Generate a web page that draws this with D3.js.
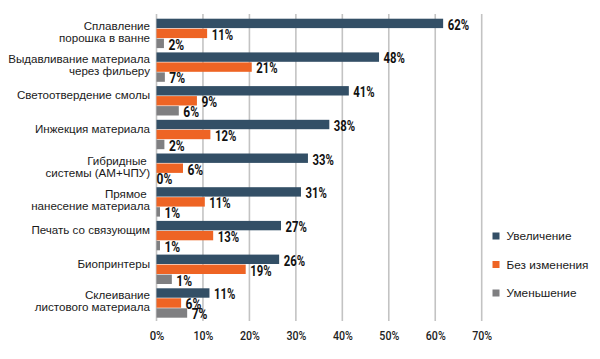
<!DOCTYPE html>
<html><head><meta charset="utf-8">
<script src="https://cdn.jsdelivr.net/npm/d3@7"></script>
<style>
body{margin:0;background:#fff;}
svg{display:block;}
text{white-space:pre;}
</style></head>
<body>
<svg id="chart" width="600" height="359"></svg>
<script>
const categories = [
  ["Сплавление", "порошка в ванне"],
  ["Выдавливание материала", "через фильеру"],
  ["Светоотвердение смолы"],
  ["Инжекция материала"],
  ["Гибридные ", "системы (АМ+ЧПУ)"],
  ["Прямое ", "нанесение материала"],
  ["Печать со связующим"],
  ["Биопринтеры"],
  ["Склеивание", "листового материала"]
];
const seriesNames = ["Увеличение", "Без изменения", "Уменьшение"];
// bar lengths as drawn (percent)
const increase  = [61.7, 47.9, 41.4, 37.2, 32.6, 31.1, 26.8, 26.4, 11.4];
const unchanged = [10.9, 20.5, 8.7, 11.6, 5.7, 10.4, 12.2, 19.2, 5.3];
const decrease  = [1.6, 1.8, 4.8, 1.7, 0, 0.75, 0.75, 3.3, 6.6];
// printed value labels
const increaseLabels  = ["62%","48%","41%","38%","33%","31%","27%","26%","11%"];
const unchangedLabels = ["11%","21%","9%","12%","6%","11%","13%","19%","6%"];
const decreaseLabels  = ["2%","7%","6%","2%","0%","1%","1%","1%","7%"];
const xTicks = [0,10,20,30,40,50,60,70];
const colors = ["#334f66", "#ee6424", "#7f7f81"];

const condFont = "Roboto,'DejaVu Sans',sans-serif";
const narrowLen = s => (s.length - 1) * 5.6 + 10.2;

const svg = d3.select("#chart");
const x = d3.scaleLinear().domain([0,70]).range([156.5, 481.7]);
const y = d3.scaleBand().domain(d3.range(categories.length)).range([15, 322]).paddingInner(0.11).paddingOuter(0.11);
const ys = d3.scaleBand().domain([0,1,2]).range([0, y.bandwidth()]);

// gridlines
svg.append("g").selectAll("line").data(xTicks).join("line")
  .attr("x1", d => x(d)).attr("x2", d => x(d))
  .attr("y1", 14).attr("y2", 321)
  .attr("stroke", "#c3c3c3").attr("stroke-width", 1.6);

// axis tick labels
const xAxis = d3.axisBottom(x).tickValues(xTicks).tickFormat(d => d + "%").tickSize(0).tickPadding(0);
const ax = svg.append("g").attr("transform", "translate(0,330)").call(xAxis);
ax.select(".domain").remove();
ax.selectAll("text")
  .attr("dy", "0.75em")
  .attr("textLength", d => narrowLen(d + "%") * 0.93)
  .attr("lengthAdjust", "spacingAndGlyphs")
  .style("font-family", condFont)
  .style("font-size", "13px").style("font-weight", "500").attr("fill", "#222");

const series = [increase, unchanged, decrease];
const labels = [increaseLabels, unchangedLabels, decreaseLabels];

series.forEach((vals, si) => {
  const g = svg.append("g");
  g.selectAll("rect").data(vals).join("rect")
    .attr("x", x(0))
    .attr("y", (d, i) => y(i) + ys(si))
    .attr("width", d => x(d) - x(0))
    .attr("height", ys.bandwidth() - 0.6)
    .attr("fill", colors[si]);
  g.selectAll("text").data(vals).join("text")
    .attr("x", d => x(d) + (d > 0 ? 4.5 : 0))
    .attr("y", (d, i) => y(i) + ys(si) + ys.bandwidth() / 2 + 6)
    .text((d, i) => labels[si][i])
    .attr("textLength", (d, i) => narrowLen(labels[si][i]))
    .attr("lengthAdjust", "spacingAndGlyphs")
    .style("font-family", condFont)
    .style("font-size", "14.5px").style("font-weight", "bold").attr("fill", "#111");
});

// category labels
const cg = svg.append("g");
categories.forEach((lines, i) => {
  const lh = 12;
  const center = lines.length === 1 ? y(i) + 9 : y(i) + 13;
  const t = cg.append("text")
    .attr("text-anchor", "end")
    .style("font-family", "'Liberation Sans',Arial,sans-serif")
    .style("font-size", "11.6px").attr("fill", "#1a1a1a");
  lines.forEach((ln, j) => {
    t.append("tspan").attr("x", 150)
      .attr("y", center + (j - (lines.length - 1) / 2) * lh + 4)
      .text(ln);
  });
});

// legend
const lg = svg.append("g");
seriesNames.forEach((name, i) => {
  const yy = 232.5 + i * 28.5;
  lg.append("rect").attr("x", 492.5).attr("y", yy).attr("width", 7).attr("height", 7).attr("fill", colors[i]);
  lg.append("text").attr("x", 506.5).attr("y", yy + 7.5).text(name)
    .style("font-family", "'Liberation Sans',Arial,sans-serif")
    .style("font-size", "11.8px").attr("fill", "#1a1a1a");
});
</script>
</body></html>
